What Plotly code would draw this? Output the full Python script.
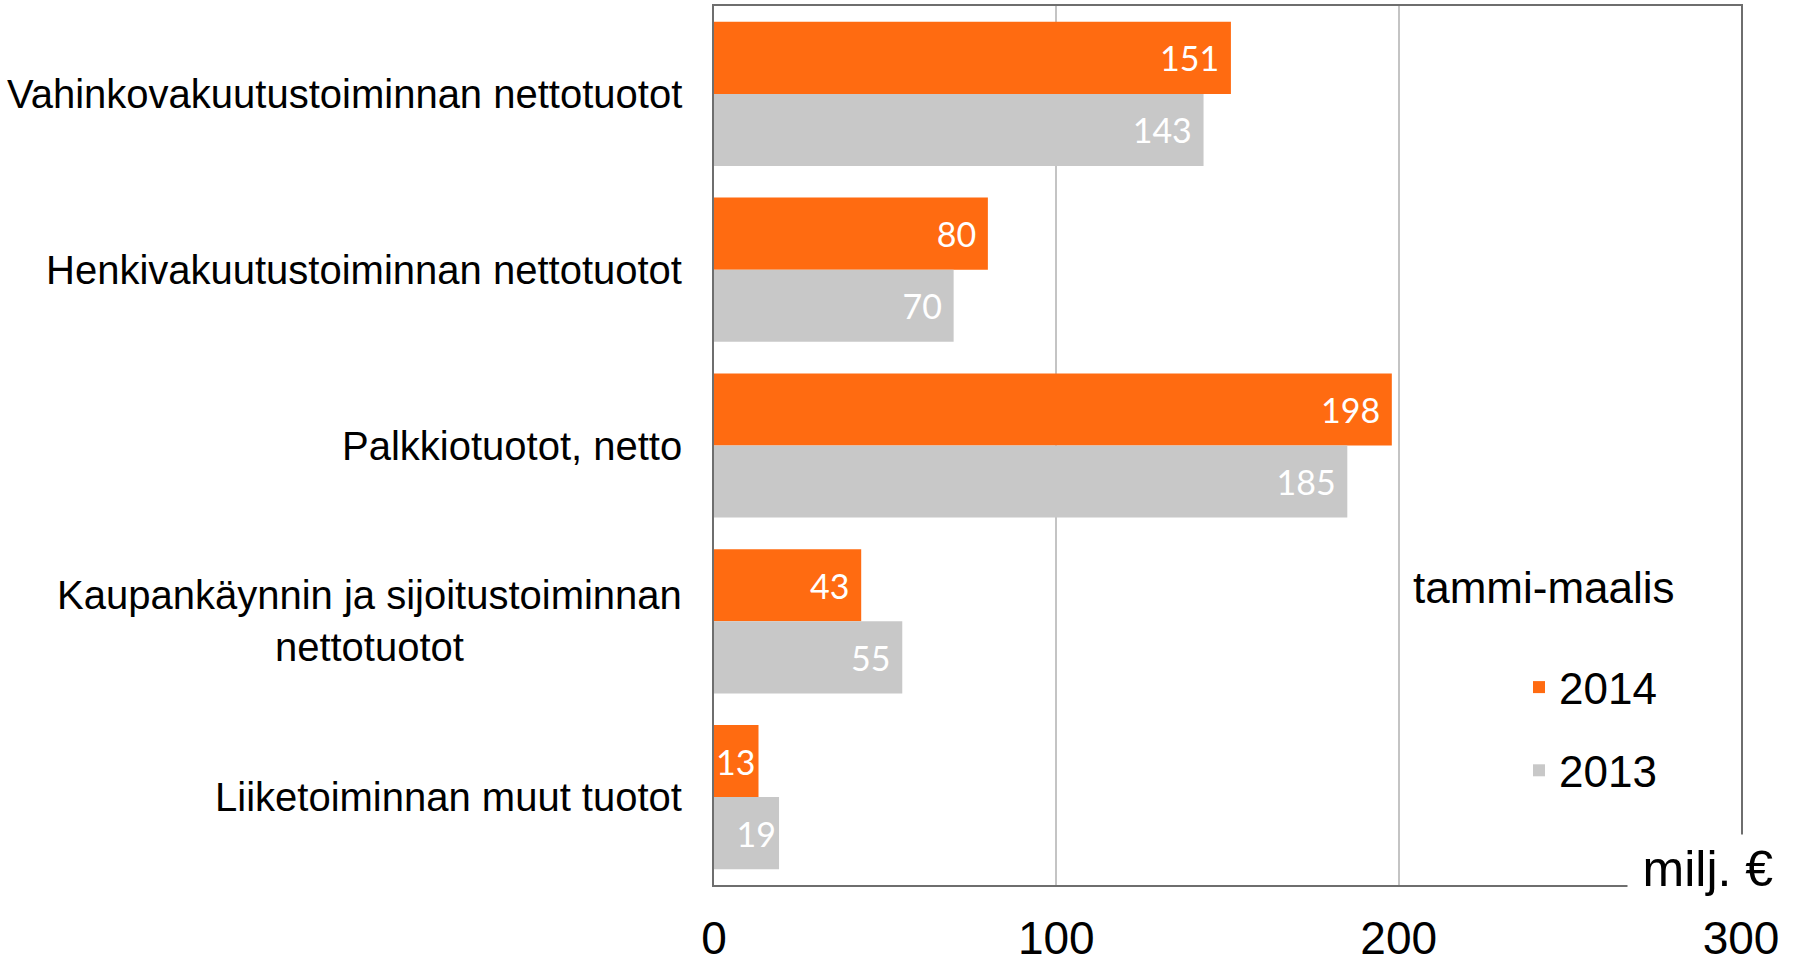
import plotly.graph_objects as go

categories = [
    "Vahinkovakuutustoiminnan nettotuotot",
    "Henkivakuutustoiminnan nettotuotot",
    "Palkkiotuotot, netto",
    "Kaupankäynnin ja sijoitustoiminnan nettotuotot",
    "Liiketoiminnan muut tuotot",
]
category_labels = [
    "Vahinkovakuutustoiminnan nettotuotot",
    "Henkivakuutustoiminnan nettotuotot",
    "Palkkiotuotot, netto",
    "Kaupankäynnin ja sijoitustoiminnan<br>nettotuotot",
    "Liiketoiminnan muut tuotot",
]
values_2014 = [151, 80, 198, 43, 13]
values_2013 = [143, 70, 185, 55, 19]
series_names = ["2014", "2013"]
x_ticks = [0, 100, 200, 300]
legend_title = "tammi-maalis"
unit_label = "milj. €"

ORANGE = "#FF6B11"
GREY = "#C8C8C8"
FONT = "Arial, Liberation Sans, sans-serif"

W, H = 1801, 968
L, R, T, B = 714, 60, 6, 83
PW = W - L - R
PH = H - T - B


def px_x(px):
    return (px - L) / PW


def px_y(py):
    return (H - B - py) / PH


def bar_label(v):
    # narrow bars get their label flush with the bar end
    return f"{v}\u00a0" if v > 20 else f"{v}"


fig = go.Figure()
for name, vals, col, grp in [
    (series_names[0], values_2014, ORANGE, "a"),
    (series_names[1], values_2013, GREY, "b"),
]:
    fig.add_trace(
        go.Bar(
            name=name,
            y=categories,
            x=vals,
            orientation="h",
            marker=dict(color=col, line=dict(width=0)),
            text=[bar_label(v) for v in vals],
            textposition="inside",
            insidetextanchor="end",
            constraintext="none",
            textangle=0,
            textfont=dict(family="Lato, Open Sans, sans-serif", size=34, color="white"),
            legendgroup=grp,
            hoverinfo="x+name",
        )
    )

annotations = []
for cat, lab in zip(categories, category_labels):
    annotations.append(
        dict(
            xref="paper", yref="y", x=0, y=cat, text=lab,
            xanchor="right", yanchor="middle", xshift=-30,
            align="center", showarrow=False,
            font=dict(family=FONT, size=40, color="black"),
        )
    )
annotations.append(
    dict(
        xref="paper", yref="paper", x=px_x(1544), y=px_y(587), text=legend_title,
        xanchor="center", yanchor="middle", showarrow=False,
        font=dict(family=FONT, size=44, color="black"),
    )
)
annotations.append(
    dict(
        xref="paper", yref="paper", x=px_x(1708), y=px_y(834), text=unit_label,
        xanchor="center", yanchor="top", showarrow=False,
        width=160, height=68, align="center", valign="middle",
        bgcolor="white", borderpad=0,
        font=dict(family=FONT, size=50, color="black"),
    )
)

fig.update_layout(
    width=W, height=H,
    margin=dict(l=L, r=R, t=T, b=B, pad=0, autoexpand=False),
    paper_bgcolor="white", plot_bgcolor="white",
    barmode="group", bargap=0.18, bargroupgap=0,
    font=dict(family=FONT, color="black"),
    showlegend=True,
    legend=dict(
        x=px_x(1519), y=px_y(652), xanchor="left", yanchor="top",
        xref="paper", yref="paper",
        font=dict(family=FONT, size=44, color="black"),
        traceorder="grouped", tracegroupgap=23,
        bgcolor="rgba(0,0,0,0)", itemclick=False,
    ),
    annotations=annotations,
    xaxis=dict(
        range=[0, 300], tickvals=x_ticks, ticktext=[str(t) for t in x_ticks],
        showgrid=True, gridcolor="#C4C4C4", gridwidth=1.5,
        showline=True, linecolor="#6E6E6E", linewidth=2, mirror=True,
        zeroline=False, ticks="", ticklabelstandoff=12, automargin=False,
        tickfont=dict(family=FONT, size=46, color="black"),
        fixedrange=True,
    ),
    yaxis=dict(
        categoryorder="array", categoryarray=categories,
        autorange="reversed", automargin=False,
        showgrid=False, showline=True, linecolor="#6E6E6E", linewidth=2, mirror=True,
        showticklabels=False, ticks="", zeroline=False, fixedrange=True,
    ),
)

fig.write_html(
    "out.html",
    config={"displayModeBar": False},
    post_script="document.body.style.margin='0';",
)
